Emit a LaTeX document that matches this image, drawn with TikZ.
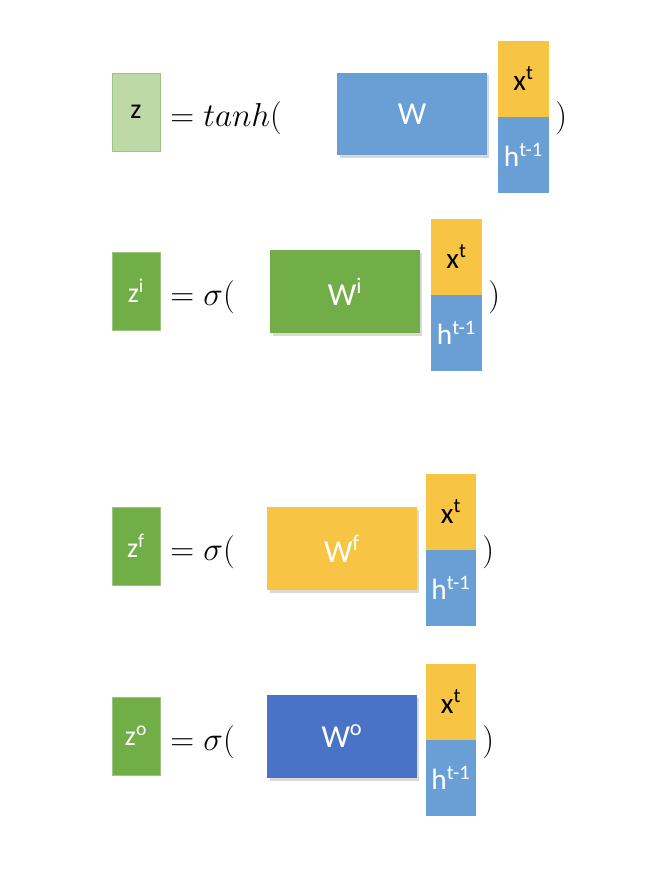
\documentclass[tikz,border=0pt]{standalone}
\usepackage{fontspec}
\setsansfont{Carlito}
\usetikzlibrary{shadows}
\definecolor{lgreen}{HTML}{BCD9A6}
\definecolor{mgreen}{HTML}{72AE48}
\definecolor{mblue}{HTML}{6A9FD6}
\definecolor{dblue}{HTML}{4A72C6}
\definecolor{myellow}{HTML}{F7C443}
\tikzset{
  zbox/.style={draw=mgreen!70, fill=mgreen, minimum width=36pt, minimum height=58.5pt, inner sep=0pt, font=\sffamily\fontsize{21}{21}\selectfont, text=white},
  wbox/.style={fill=#1, minimum width=112pt, minimum height=62pt, inner sep=0pt, font=\sffamily\fontsize{24}{24}\selectfont, text=white, drop shadow={opacity=0.3, shadow xshift=2pt, shadow yshift=-2pt}},
  xbox/.style={fill=myellow, minimum width=38pt, minimum height=57pt, inner sep=0pt, font=\sffamily\fontsize{22}{22}\selectfont, text=black},
  hbox/.style={fill=mblue, minimum width=38pt, minimum height=57pt, inner sep=0pt, font=\sffamily\fontsize{22}{22}\selectfont, text=white},
  eq/.style={font=\fontsize{30}{30}\selectfont, inner sep=0pt, anchor=west},
}
\begin{document}
\begin{tikzpicture}[x=0.75pt, y=-0.75pt]
\useasboundingbox (0,0) rectangle (646,886);
% tanh row
\node[zbox, fill=lgreen, text=black] (z) at (136,112) {z};
\node[eq] (eqz) at (170,118) {$= tanh($};
\node[wbox=mblue] (w) at (412,114) {W};
\node[xbox] (x1) at (523.5,78.5) {x\textsuperscript{t}};
\node[hbox, anchor=north] (h1) at (x1.south) {h\textsuperscript{t-1}};
\node[eq] (p1) at (555,118) {$)$};
% input gate
\node[zbox] (zi) at (136,291) {z\textsuperscript{i}};
\node[eq] (eqi) at (170,297) {$=\sigma($};
\node[wbox=mgreen] (wi) at (345,291.5) {W\textsuperscript{i}};
\node[xbox] (x2) at (456.5,256.5) {x\textsuperscript{t}};
\node[hbox, anchor=north] (h2) at (x2.south) {h\textsuperscript{t-1}};
\node[eq] (p2) at (488,297) {$)$};
% forget gate
\node[zbox] (zf) at (136,546) {z\textsuperscript{f}};
\node[eq] (eqf) at (170,552) {$=\sigma($};
\node[wbox=myellow] (wf) at (342,548.5) {W\textsuperscript{f}};
\node[xbox] (x3) at (451,511.5) {x\textsuperscript{t}};
\node[hbox, anchor=north] (h3) at (x3.south) {h\textsuperscript{t-1}};
\node[eq] (p3) at (482,552) {$)$};
% output gate
\node[zbox] (zo) at (136,736) {z\textsuperscript{o}};
\node[eq] (eqo) at (170,742) {$=\sigma($};
\node[wbox=dblue] (wo) at (342,736.5) {W\textsuperscript{o}};
\node[xbox] (x4) at (451,701.5) {x\textsuperscript{t}};
\node[hbox, anchor=north] (h4) at (x4.south) {h\textsuperscript{t-1}};
\node[eq] (p4) at (482,742) {$)$};
\end{tikzpicture}
\end{document}
